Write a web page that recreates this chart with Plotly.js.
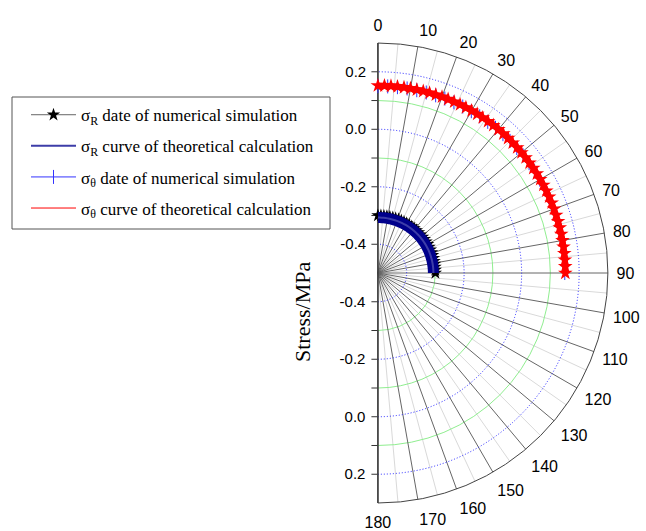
<!DOCTYPE html>
<html>
<head>
<meta charset="utf-8">
<script src="https://cdn.plot.ly/plotly-3.0.1.min.js"></script>
<style>html,body{margin:0;padding:0;background:#fff}#chart{width:646px;height:531px}</style>
</head>
<body>
<div id="chart"></div>
<script>
// ---- data ----
var thetaSim = [0,3,6,9,12,15,18,21,24,27,30,33,36,39,42,45,48,51,54,57,60,63,66,69,72,75,78,81,84,87,90];
var sigmaRSim = [-0.3,-0.3,-0.3,-0.3,-0.3,-0.3,-0.3,-0.3,-0.3,-0.3,-0.3,-0.3,-0.3,-0.3,-0.3,-0.3,-0.3,-0.3,-0.3,-0.3,-0.3,-0.3,-0.3,-0.3,-0.3,-0.3,-0.3,-0.3,-0.3,-0.3,-0.3];
var sigmaThetaSim = [0.15,0.15,0.15,0.15,0.15,0.15,0.15,0.15,0.15,0.15,0.15,0.15,0.15,0.15,0.15,0.15,0.15,0.15,0.15,0.15,0.15,0.15,0.15,0.15,0.15,0.15,0.15,0.15,0.15,0.15,0.15];
var thetaCurve = [0,2,4,6,8,10,12,14,16,18,20,22,24,26,28,30,32,34,36,38,40,42,44,46,48,50,52,54,56,58,60,62,64,66,68,70,72,74,76,78,80,82,84,86,88,90];
var sigmaRCurve = [-0.307,-0.307,-0.307,-0.307,-0.307,-0.307,-0.307,-0.307,-0.307,-0.307,-0.307,-0.307,-0.307,-0.307,-0.307,-0.307,-0.307,-0.307,-0.307,-0.307,-0.307,-0.307,-0.307,-0.307,-0.307,-0.307,-0.307,-0.307,-0.307,-0.307,-0.307,-0.307,-0.307,-0.307,-0.307,-0.307,-0.307,-0.307,-0.307,-0.307,-0.307,-0.307,-0.307,-0.307,-0.307,-0.307];
var sigmaThetaCurve = [0.152,0.152,0.152,0.152,0.152,0.152,0.152,0.152,0.152,0.152,0.152,0.152,0.152,0.152,0.152,0.152,0.152,0.152,0.152,0.152,0.152,0.152,0.152,0.152,0.152,0.152,0.152,0.152,0.152,0.152,0.152,0.152,0.152,0.152,0.152,0.152,0.152,0.152,0.152,0.152,0.152,0.152,0.152,0.152,0.152,0.152];

var seriesNames = [
  "σ<sub>R</sub> date of numerical simulation",
  "σ<sub>R</sub> curve of theoretical calculation",
  "σ<sub>θ</sub> date of numerical simulation",
  "σ<sub>θ</sub> curve of theoretical calculation"
];
var angularMajorTicks = [0,10,20,30,40,50,60,70,80,90,100,110,120,130,140,150,160,170,180];
var angularMinorTicks = [5,15,25,35,45,55,65,75,85,95,105,115,125,135,145,155,165,175];
var radialMajorTicks = [-0.4,-0.2,0.0,0.2];
var radialMinorTicks = [-0.3,-0.1,0.1];
var radialTickVals = [-0.4,-0.3,-0.2,-0.1,0.0,0.1,0.2];
var radialTickText = ["-0.4","","-0.2","","0.0","","0.2"];
var radialRange = [-0.5,0.3];

var sans = "Liberation Sans, Arial, sans-serif";
var serif = "Liberation Serif, Times New Roman, serif";

function placeholder(sp){
  return {type:"scatterpolar", subplot:sp, r:[], theta:[], mode:"lines", showlegend:false, hoverinfo:"skip"};
}

var traces = [
  placeholder("polar"), placeholder("polar2"), placeholder("polar3"),
  {type:"scatterpolar", subplot:"polar4", r:sigmaRSim, theta:thetaSim, mode:"lines+markers",
   name:seriesNames[0], legendrank:1, legendgroup:"a",
   line:{color:"#666666", width:1}, marker:{symbol:"star", color:"#000000", size:10}},
  {type:"scatterpolar", subplot:"polar4", r:sigmaRCurve, theta:thetaCurve, mode:"lines",
   showlegend:false, hoverinfo:"skip", line:{color:"#00008b", width:11}},
  {type:"scatterpolar", subplot:"polar4", r:sigmaRCurve, theta:thetaCurve, mode:"lines",
   name:seriesNames[1], legendrank:2, legendgroup:"b", line:{color:"#3d3da8", width:2}},
  {type:"scatterpolar", subplot:"polar4", r:sigmaThetaSim, theta:thetaSim, mode:"lines+markers",
   name:seriesNames[2], legendrank:3, legendgroup:"c",
   line:{color:"#3333ff", width:1}, marker:{symbol:"line-ns-open", color:"#3333ff", size:10, line:{width:1, color:"#3333ff"}}},
  {type:"scatterpolar", subplot:"polar4", r:sigmaThetaCurve, theta:thetaCurve, mode:"lines+markers",
   showlegend:false, hoverinfo:"skip", line:{color:"#ff0000", width:6}, marker:{symbol:"star", color:"#ff0000", size:11}},
  {type:"scatterpolar", subplot:"polar4", r:sigmaThetaCurve, theta:thetaCurve, mode:"lines",
   name:seriesNames[3], legendrank:4, legendgroup:"d", line:{color:"#ff0000", width:1}}
];

var dom = {x:[0.585,0.941], y:[0.0527,0.919]};
var sector = [-90,90];
function hiddenAngular(){
  return {rotation:90, direction:"clockwise", showline:false, showgrid:false, showticklabels:false, ticks:"", tickmode:"array", tickvals:[]};
}

var layout = {
  width:646, height:531,
  margin:{l:0,r:0,t:0,b:0},
  paper_bgcolor:"#ffffff",
  showlegend:true,
  legend:{x:26/646, y:0.817, xanchor:"left", yanchor:"top",
    borderwidth:0, bgcolor:"rgba(0,0,0,0)",
    font:{family:serif, size:17, color:"#000"},
    traceorder:"grouped", tracegroupgap:6, itemwidth:45},
  shapes:[{type:"rect", xref:"paper", yref:"paper", x0:12/646, x1:330/646, y0:1-229/531, y1:1-97/531,
    line:{color:"#555555", width:1}, fillcolor:"rgba(0,0,0,0)", layer:"below"}],
  polar:{domain:dom, sector:sector, bgcolor:"#ffffff",
    angularaxis:{rotation:90, direction:"clockwise", tickmode:"array", tickvals:angularMinorTicks,
      showticklabels:false, ticks:"", showline:false, gridcolor:"#d9d9d9", gridwidth:1},
    radialaxis:{range:radialRange, tickmode:"array", tickvals:radialMinorTicks, showticklabels:false,
      ticks:"", showline:false, gridcolor:"#90ee90", gridwidth:1, angle:90}
  },
  polar2:{domain:dom, sector:sector, bgcolor:"rgba(0,0,0,0)",
    angularaxis:{rotation:90, direction:"clockwise", tickmode:"array", tickvals:angularMajorTicks,
      ticks:"outside", ticklen:5, tickcolor:"rgba(0,0,0,0)", showline:true, linecolor:"#444", linewidth:1,
      gridcolor:"#666666", gridwidth:1,
      tickfont:{family:sans, size:16, color:"#000"}},
    radialaxis:{range:radialRange, tickmode:"array", tickvals:radialMajorTicks, showticklabels:false,
      ticks:"", showline:false, gridcolor:"#2222ff", gridwidth:1, griddash:"1px,2px", angle:90}
  },
  polar3:{domain:dom, sector:sector, bgcolor:"rgba(0,0,0,0)",
    angularaxis:hiddenAngular(),
    radialaxis:{range:radialRange, angle:90, side:"counterclockwise", tickmode:"array",
      tickvals:radialTickVals, ticktext:radialTickText, ticks:"outside", ticklen:6, tickcolor:"#333",
      showline:true, linecolor:"#333", linewidth:1, showgrid:false, tickangle:90,
      tickfont:{family:sans, size:15, color:"#000"}}
  },
  polar4:{domain:dom, sector:sector, bgcolor:"rgba(0,0,0,0)",
    angularaxis:hiddenAngular(),
    radialaxis:{range:radialRange, angle:-90, side:"clockwise", tickmode:"array",
      tickvals:radialTickVals, ticktext:radialTickText, ticks:"outside", ticklen:6, tickcolor:"#333",
      showline:true, linecolor:"#333", linewidth:1, showgrid:false, tickangle:-90,
      tickfont:{family:sans, size:15, color:"#000"}}
  },
  annotations:[{text:"Stress/MPa", xref:"paper", yref:"paper", x:302/646, y:1-312/531,
    xanchor:"center", yanchor:"middle",
    showarrow:false, textangle:-90, font:{family:serif, size:22, color:"#000"}}]
};

Plotly.newPlot("chart", traces, layout, {displayModeBar:false, staticPlot:true});
</script>
</body>
</html>
